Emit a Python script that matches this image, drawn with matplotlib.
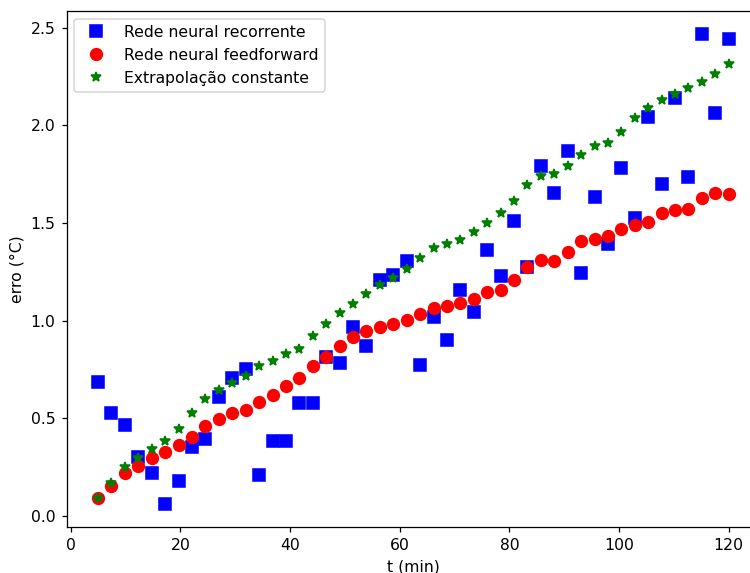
import numpy as np
import matplotlib
matplotlib.use("Agg")
import matplotlib.pyplot as plt

# tempo (min)
t = [5.00, 7.45, 9.89, 12.34, 14.79, 17.23, 19.68, 22.13, 24.57, 27.02,
     29.47, 31.91, 34.36, 36.81, 39.26, 41.70, 44.15, 46.60, 49.04, 51.49,
     53.94, 56.38, 58.83, 61.28, 63.72, 66.17, 68.62, 71.06, 73.51, 75.96,
     78.40, 80.85, 83.30, 85.74, 88.19, 90.64, 93.09, 95.53, 97.98, 100.43,
     102.87, 105.32, 107.77, 110.21, 112.66, 115.11, 117.55, 120.00]

erro_rnn = [0.684, 0.528, 0.465, 0.302, 0.218, 0.063, 0.176, 0.355, 0.395, 0.610,
            0.707, 0.752, 0.210, 0.385, 0.382, 0.580, 0.576, 0.815, 0.781, 0.968,
            0.871, 1.207, 1.236, 1.304, 0.774, 1.016, 0.899, 1.156, 1.043, 1.364,
            1.228, 1.509, 1.272, 1.794, 1.651, 1.871, 1.245, 1.633, 1.390, 1.782,
            1.526, 2.042, 1.702, 2.142, 1.736, 2.466, 2.065, 2.440]

erro_ff = [0.090, 0.153, 0.220, 0.257, 0.298, 0.326, 0.362, 0.406, 0.460, 0.494,
           0.525, 0.544, 0.581, 0.617, 0.665, 0.704, 0.769, 0.815, 0.868, 0.916,
           0.946, 0.968, 0.980, 1.001, 1.032, 1.062, 1.074, 1.090, 1.113, 1.146,
           1.158, 1.207, 1.272, 1.308, 1.306, 1.350, 1.410, 1.418, 1.432, 1.468,
           1.490, 1.507, 1.551, 1.564, 1.574, 1.628, 1.652, 1.649]

erro_const = [0.090, 0.167, 0.251, 0.298, 0.343, 0.385, 0.447, 0.528, 0.600, 0.643,
              0.682, 0.718, 0.767, 0.791, 0.827, 0.854, 0.921, 0.980, 1.038, 1.084,
              1.134, 1.182, 1.216, 1.262, 1.318, 1.374, 1.391, 1.412, 1.454, 1.500,
              1.553, 1.613, 1.693, 1.739, 1.751, 1.790, 1.848, 1.894, 1.910, 1.964,
              2.039, 2.087, 2.131, 2.162, 2.193, 2.222, 2.264, 2.312]

DPI = 112.5
fig = plt.figure(figsize=(750 / DPI, 573 / DPI), dpi=DPI)
# right spine falls just outside the crop, as in the reference
ax = fig.add_axes([0.0887, 0.0803, 0.925, 0.9007])

ax.plot(t, erro_rnn, "bs", markersize=7.5, label="Rede neural recorrente")
ax.plot(t, erro_ff, "ro", markersize=7.5, label="Rede neural feedforward")
ax.plot(t, erro_const, "g*", markersize=6.7, label="Extrapolação constante")

ax.set_xlabel("t (min)")
ax.set_ylabel("erro (°C)")
ax.legend(loc="upper left")

fig.savefig("out.png", dpi=DPI)
